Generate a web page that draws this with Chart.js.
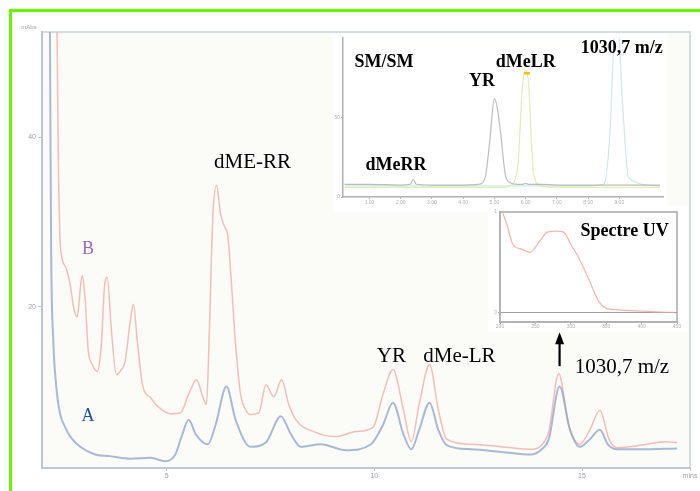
<!DOCTYPE html>
<html>
<head>
<meta charset="utf-8">
<script src="https://cdn.jsdelivr.net/npm/chart.js@4.4.0/dist/chart.umd.min.js"></script>
<style>
  body { margin: 0; background: #fff; }
  #wrap { position: relative; width: 700px; height: 491px; overflow: hidden; }
  #wrap canvas { position: absolute; }
  #frame { position: absolute; left: 9px; top: 9px; width: 720px; height: 520px;
           border-top: 3px solid #63f700; border-left: 3px solid #63f700; }
</style>
</head>
<body>
<div id="wrap">
  <canvas id="main" width="700" height="491" style="left:0;top:0"></canvas>
  <canvas id="sm" width="334" height="178" style="left:333px;top:34px;background:#fff"></canvas>
  <canvas id="uv" width="200" height="126" style="left:488px;top:206px;background:#fff"></canvas>
  <div id="frame"></div>
</div>
<script>
// chromatogram, time in minutes
var xMin = 2, xMax = 17.6;
var xTicks = [5, 10, 15, 17.6];
var yTicks = [20, 40];

var timeA = [2.19, 2.22, 2.27, 2.34, 2.43, 2.56, 2.68, 2.92, 3.28, 3.64, 4.13, 4.61, 4.97, 5.21, 5.38, 5.53, 5.70, 5.99,
  6.18, 6.44, 6.66, 7.02, 7.39, 7.75, 7.99, 8.23, 8.71, 9.32, 9.92, 10.21, 10.45, 10.70, 10.89, 11.08, 11.33, 11.54,
  11.74, 12.34, 13.06, 13.79, 14.03, 14.20, 14.46, 14.71, 14.95, 15.19, 15.43, 15.62, 15.84, 16.44, 17.29];
var valA = [53.9, 26.8, 16.2, 10.8, 7.5, 5.8, 4.7, 3.5, 2.6, 2.4, 2.1, 2.2, 1.8, 2.6, 5.0, 6.7, 5.0, 3.8,
  6.1, 10.6, 6.7, 3.5, 4.0, 7.1, 5.0, 3.5, 3.8, 3.1, 3.8, 6.1, 8.7, 5.0, 3.2, 5.5, 8.7, 5.5,
  3.7, 3.2, 2.9, 2.6, 3.2, 4.4, 10.6, 5.5, 3.5, 4.4, 5.5, 3.8, 3.2, 3.2, 3.3];

var timeB = [2.36, 2.39, 2.43, 2.48, 2.58, 2.68, 2.77, 2.85, 2.92, 2.97, 3.04, 3.11, 3.21, 3.33, 3.43, 3.50, 3.57, 3.67,
  3.79, 3.88, 4.00, 4.13, 4.20, 4.29, 4.42, 4.61, 4.78, 5.09, 5.33, 5.53, 5.72, 5.89, 5.96, 6.03, 6.11, 6.20, 6.30,
  6.40, 6.47, 6.57, 6.66, 6.78, 6.90, 7.02, 7.22, 7.39, 7.58, 7.77, 7.94, 8.11, 8.59, 9.08, 9.56, 9.97, 10.21, 10.45,
  10.70, 10.89, 11.08, 11.33, 11.54, 11.74, 12.34, 13.06, 13.79, 14.03, 14.20, 14.44, 14.68, 14.95, 15.19, 15.43,
  15.65, 15.84, 16.44, 17.00, 17.29];
var valB = [53.9, 38.6, 28.5, 25.8, 24.6, 22.6, 19.7, 18.8, 22.1, 23.7, 20.9, 15.0, 13.2, 12.4, 15.6, 22.1, 23.5, 17.3,
  12.0, 12.4, 13.6, 18.5, 20.3, 16.2, 10.8, 9.3, 8.3, 7.4, 7.5, 9.7, 11.4, 9.1, 8.5, 17.3, 30.3, 34.3, 30.9,
  29.4, 28.5, 22.1, 15.6, 9.7, 7.9, 7.3, 7.5, 10.8, 9.4, 11.4, 8.5, 6.7, 5.2, 4.7, 5.3, 5.8, 9.7, 12.6,
  7.9, 4.1, 8.5, 13.2, 7.9, 4.4, 3.8, 3.5, 3.2, 3.7, 5.3, 12.1, 6.1, 3.8, 5.5, 7.8,
  4.4, 3.4, 3.7, 4.1, 4.0];

// SM/SM inset
var smTime = [0.2, 1.0, 2.0, 2.3, 2.4, 2.5, 3.0, 4.0, 4.5, 4.7, 4.85, 5.0, 5.1, 5.2, 5.35, 5.5, 5.75, 5.9, 6.0, 6.1,
  6.25, 6.5, 7.0, 8.0, 8.5, 8.7, 8.85, 8.95, 9.1, 9.3, 10.3];
var smYR = [8, 8, 7.5, 8, 11, 8, 7.5, 7.5, 8, 12, 35, 62, 55, 40, 14, 9, 8, 8, 8.5, 8,
  8, 8, 7.5, 7.5, 7.5, 7.5, 7.5, 7.5, 7.5, 7.5, 7.5];
var smLR = [6, 6, 6, 6, 6, 6, 6, 6, 6, 6, 6, 6, 6, 6, 6, 7, 20, 70, 80, 70,
  15, 7, 6, 6, 6, 6, 6, 6, 6, 6, 6];
var sm1030 = [7, 7, 7, 7, 7, 7, 7, 7, 7, 7, 7, 7, 7, 7, 7, 7, 7, 7, 7, 7,
  7, 7, 7, 7, 8, 40, 105, 110, 60, 12, 7];
var smTicks = [1, 2, 3, 4, 5, 6, 7, 8, 9];

// UV spectrum inset, wavelength in nm
var uvWave = [204, 210, 218, 231, 242, 256, 267, 279, 290, 300, 311, 325, 339, 349, 367, 394, 422, 446];
var uvAbs = [0.99, 0.87, 0.68, 0.63, 0.60, 0.71, 0.80, 0.81, 0.80, 0.68, 0.55, 0.34, 0.12, 0.05, 0.03, 0.02, 0.01, 0.005];
var uvTicks = [200, 250, 300, 350, 400, 450];

function pts(xs, ys) {
  return xs.map(function (x, i) { return { x: x, y: ys[i] }; });
}

function trace(data, color, width) {
  return {
    data: data, borderColor: color, borderWidth: width, pointRadius: 0,
    fill: false, tension: 0.4, cubicInterpolationMode: 'monotone'
  };
}

// fills the plot area and draws a frame round it
var plotBox = {
  id: 'plotBox',
  beforeDraw: function (chart, args, opts) {
    var a = chart.chartArea, ctx = chart.ctx;
    ctx.save();
    ctx.fillStyle = opts.fill;
    ctx.fillRect(a.left, a.top, a.right - a.left, a.bottom - a.top);
    if (opts.stroke) {
      ctx.strokeStyle = opts.stroke;
      ctx.lineWidth = opts.lineWidth || 1;
      ctx.strokeRect(a.left, a.top, a.right - a.left, a.bottom - a.top);
    }
    ctx.restore();
  }
};

// text and marks placed in data units
var notes = {
  id: 'notes',
  afterDraw: function (chart, args, opts) {
    var ctx = chart.ctx, sx = chart.scales.x, sy = chart.scales.y;
    ctx.save();
    ctx.textAlign = 'center';
    ctx.textBaseline = 'middle';
    (opts.items || []).forEach(function (it) {
      var px = sx.getPixelForValue(it.x), py = sy.getPixelForValue(it.y);
      if (it.arrowTo !== undefined) {
        var ty = sy.getPixelForValue(it.arrowTo);
        ctx.strokeStyle = '#000'; ctx.fillStyle = '#000'; ctx.lineWidth = 2.2;
        ctx.beginPath(); ctx.moveTo(px, py); ctx.lineTo(px, ty + 8); ctx.stroke();
        ctx.beginPath(); ctx.moveTo(px, ty); ctx.lineTo(px - 4.5, ty + 12); ctx.lineTo(px + 4.5, ty + 12);
        ctx.closePath(); ctx.fill();
      } else if (it.dash) {
        ctx.fillStyle = it.color;
        ctx.fillRect(px - 3, py - 1, 6, 2.5);
      } else {
        ctx.font = it.font;
        ctx.fillStyle = it.color || '#000';
        ctx.fillText(it.text, px, py);
      }
    });
    if (opts.unit) {
      ctx.font = '6px "Liberation Sans"';
      ctx.fillStyle = '#a0a0a0';
      ctx.fillText(opts.unit, 29, 27);
    }
    ctx.restore();
  }
};

var serif = '21px "Liberation Serif"';
var serifSmall = '18px "Liberation Serif"';
var bold = 'bold 18px "Liberation Serif"';
var tickFont = { family: 'Liberation Sans', size: 7 };
var tinyFont = { family: 'Liberation Sans', size: 5 };

new Chart(document.getElementById('main'), {
  type: 'line',
  data: {
    datasets: [
      trace(pts(timeA, valA), 'rgba(140,163,202,0.75)', 2),
      trace(pts(timeB, valB), 'rgba(243,172,166,0.8)', 1.5)
    ]
  },
  options: {
    responsive: false, animation: false, events: [],
    layout: { padding: { left: 10, top: 32, right: 10, bottom: 0 } },
    plugins: {
      legend: { display: false }, tooltip: { enabled: false },
      plotBox: { fill: '#fbfcf8', stroke: '#d6dce4', lineWidth: 2 },
      notes: {
        unit: 'mAbs',
        items: [
          { text: 'dME-RR', x: 7.07, y: 37.0, font: serif },
          { text: 'B', x: 3.11, y: 26.8, font: serifSmall, color: '#9a68b8' },
          { text: 'A', x: 3.11, y: 7.1, font: serifSmall, color: '#1f4ea6' },
          { text: 'YR', x: 10.41, y: 14.2, font: serif },
          { text: 'dMe-LR', x: 12.05, y: 14.2, font: serif },
          { text: '1030,7 m/z', x: 15.96, y: 12.9, font: serif },
          { x: 14.46, y: 13.0, arrowTo: 17.0 }
        ]
      }
    },
    scales: {
      x: {
        type: 'linear', min: xMin, max: xMax,
        afterFit: function (s) { s.height = 23; },
        afterBuildTicks: function (s) { s.ticks = xTicks.map(function (v) { return { value: v }; }); },
        grid: { drawOnChartArea: false, tickLength: 3, color: '#c0c8d2' },
        border: { color: '#bfc7d1', width: 2 },
        ticks: {
          font: tickFont, color: '#a0a0a0', padding: 1, maxRotation: 0, autoSkip: false,
          callback: function (v) { return v === xMax ? 'mins' : v; }
        }
      },
      y: {
        min: 1, max: 52.4,
        afterFit: function (s) { s.width = 32; },
        afterBuildTicks: function (s) { s.ticks = yTicks.map(function (v) { return { value: v }; }); },
        grid: { drawOnChartArea: false, tickLength: 4, color: '#c0c8d2' },
        border: { color: '#bac5d4', width: 2 },
        ticks: { font: tickFont, color: '#a0a0a0', padding: 2 }
      }
    }
  },
  plugins: [plotBox, notes]
});

new Chart(document.getElementById('sm'), {
  type: 'line',
  data: {
    datasets: [
      trace(pts(smTime, smYR), 'rgba(165,165,165,0.75)', 1.2),
      trace(pts(smTime, smLR), 'rgba(222,233,170,0.85)', 1.2),
      trace(pts(smTime, sm1030), 'rgba(200,232,228,0.9)', 1.2)
    ]
  },
  options: {
    responsive: false, animation: false, events: [],
    layout: { padding: { left: 0, top: 3, right: 4, bottom: 0 } },
    plugins: {
      legend: { display: false }, tooltip: { enabled: false },
      plotBox: { fill: '#fff' },
      notes: {
        items: [
          { text: 'SM/SM', x: 1.46, y: 84.4, font: bold },
          { text: 'dMeLR', x: 6.0, y: 84.4, font: bold },
          { text: 'YR', x: 4.6, y: 73, font: bold },
          { text: '1030,7 m/z', x: 9.08, y: 93.8, font: bold },
          { text: 'dMeRR', x: 1.85, y: 20, font: bold },
          { x: 6.04, y: 78, dash: true, color: '#f5c400' }
        ]
      }
    },
    scales: {
      x: {
        type: 'linear', min: 0.15, max: 10.4,
        afterFit: function (s) { s.height = 15; },
        afterBuildTicks: function (s) { s.ticks = smTicks.map(function (v) { return { value: v }; }); },
        grid: { drawOnChartArea: false, tickLength: 2, color: '#b0b0b0' },
        border: { color: '#b0b0b0', width: 1.5 },
        ticks: {
          font: tinyFont, color: '#b0b0b0', padding: 1, maxRotation: 0, autoSkip: false,
          callback: function (v) { return v + '.00'; }
        }
      },
      y: {
        min: 0, max: 100,
        afterFit: function (s) { s.width = 10; },
        afterBuildTicks: function (s) { s.ticks = [{ value: 0 }, { value: 50 }]; },
        grid: { drawOnChartArea: false, tickLength: 2, color: '#b0b0b0' },
        border: { color: '#b0b0b0', width: 1.5 },
        ticks: { font: tinyFont, color: '#b0b0b0', padding: 1 }
      }
    }
  },
  plugins: [plotBox, notes]
});

new Chart(document.getElementById('uv'), {
  type: 'line',
  data: { datasets: [trace(pts(uvWave, uvAbs), 'rgba(242,168,158,0.85)', 1.2)] },
  options: {
    responsive: false, animation: false, events: [],
    layout: { padding: { left: 0, top: 6, right: 11, bottom: 0 } },
    plugins: {
      legend: { display: false }, tooltip: { enabled: false },
      plotBox: { fill: '#fff', stroke: '#a8a8a8', lineWidth: 1.5 },
      notes: { items: [{ text: 'Spectre UV', x: 376, y: 0.81, font: bold }] }
    },
    scales: {
      x: {
        type: 'linear', min: 200, max: 450,
        afterFit: function (s) { s.height = 10; },
        afterBuildTicks: function (s) { s.ticks = uvTicks.map(function (v) { return { value: v }; }); },
        grid: { drawOnChartArea: false, tickLength: 2, color: '#b0b0b0' },
        border: { color: '#b0b0b0', width: 1.5 },
        ticks: { font: tinyFont, color: '#b0b0b0', padding: 0, maxRotation: 0, autoSkip: false }
      },
      y: {
        min: -0.09, max: 1,
        afterFit: function (s) { s.width = 12; },
        afterBuildTicks: function (s) { s.ticks = [{ value: 0 }, { value: 1 }]; },
        grid: {
          tickLength: 2,
          color: function (c) { return c.tick && c.tick.value === 0 ? '#a0a0a0' : 'rgba(0,0,0,0)'; }
        },
        border: { color: '#b0b0b0', width: 1.5 },
        ticks: { font: tinyFont, color: '#b0b0b0', padding: 1 }
      }
    }
  },
  plugins: [plotBox, notes]
});
</script>
</body>
</html>
